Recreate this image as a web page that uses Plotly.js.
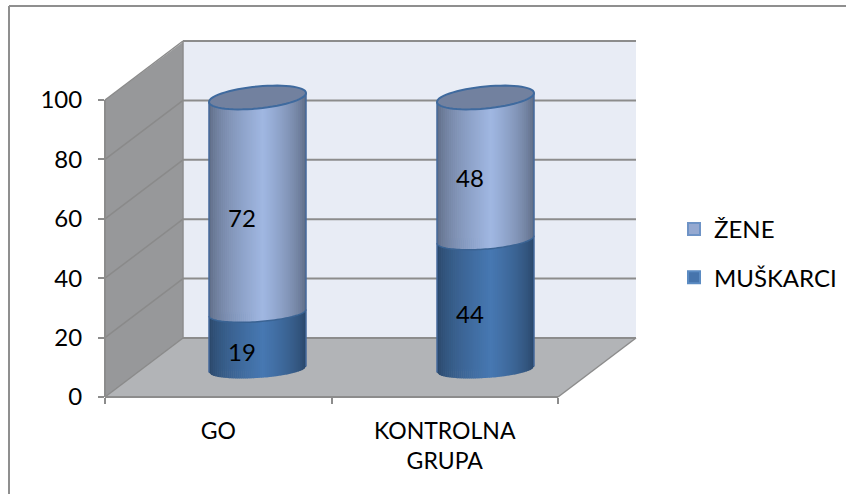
<!DOCTYPE html>
<html><head><meta charset="utf-8">
<script src="https://cdn.plot.ly/plotly-3.0.1.min.js"></script>
<style>html,body{margin:0;padding:0;background:#fff}</style></head>
<body><div id="chart" style="width:846px;height:494px"></div>
<script>
const categories = ["GO", "KONTROLNA<br>GRUPA"];
const muskarci = [19, 44];
const zene = [72, 48];
const yTicks = [0, 20, 40, 60, 80, 100];
const labelNudgePx = [[10, 12], [9, 9]];

const W = 846, H = 494, L = 105, R = 636, T = 42, B = 397;
const FRONT_W = 453, DX = 78, DY = 59, PPU = 2.97;
const CYL_X0 = 257.5, CYL_STEP = 228, CYL_BASE = 369.5, CYL_PPU = 2.72, CYL_HALF = 48.5;
const FONT = 'Lato, "Open Sans", sans-serif';

const px = x => (x - L) / (R - L);
const py = y => (B - y) / (B - T);
const x1Range = [-0.5, -0.5 + (R - L) / (FRONT_W / 2)];
const y1Range = [0, (B - T) / PPU];
const x2Range = [(L - CYL_X0) / CYL_STEP, (R - CYL_X0) / CYL_STEP];
const y2Range = [(CYL_BASE - B) / CYL_PPU, (CYL_BASE - T) / CYL_PPU];

function poly(pts, fill, line, width) {
  return {type: 'path', xref: 'paper', yref: 'paper', layer: 'below',
    path: 'M' + pts.map(p => px(p[0]) + ',' + py(p[1])).join('L') + 'Z',
    fillcolor: fill, line: {color: line || 'rgba(0,0,0,0)', width: width || 0}};
}
function seg(x0, y0, x1, y1, color, width) {
  return {type: 'line', xref: 'paper', yref: 'paper', layer: 'below',
    x0: px(x0), y0: py(y0), x1: px(x1), y1: py(y1), line: {color: color, width: width || 2}};
}
const shapes = [];
shapes.push(seg(9, 6, W, 6, '#8f8f8f', 2));
shapes.push(seg(9, 6, 9, H, '#8f8f8f', 2));
const yFront = v => B - v * PPU;
const fl = L + FRONT_W;
shapes.push(poly([[L + DX, T], [R, T], [R, B - DY], [L + DX, B - DY]], '#e8ecf5'));
shapes.push(poly([[L, yFront(100)], [L + DX, T], [L + DX, B - DY], [L, B]], '#97989a'));
shapes.push(poly([[L, B], [fl, B], [R, B - DY], [L + DX, B - DY]], '#b2b4b7'));
yTicks.forEach(v => {
  const y = yFront(v);
  shapes.push(seg(L, y, L + DX, y - DY, '#8a8a8a', 1.5));
  shapes.push(seg(L + DX, y - DY, R, y - DY, '#8c8c8c', 2));
});
shapes.push(seg(L, yFront(100), L, B, '#8c8c8c', 2));
shapes.push(seg(L + DX, T, L + DX, B - DY, '#8c8c8c', 1.5));
shapes.push(seg(L, B, fl, B, '#8c8c8c', 2));
shapes.push(seg(fl, B, R, B - DY, '#8c8c8c', 1.5));

// cylinder drawn through the x2 / y2 scales
const ellB = v => 8.5 + 2.5 * v / 100;
const tilt = v => 3 + 1.5 * v / 100;
const X2 = (i, dx) => i + dx / CYL_STEP;
const Y2 = (v, dy) => v - dy / CYL_PPU;
const frontDy = (v, u) => -tilt(v) * u + ellB(v) * Math.sqrt(Math.max(0, 1 - u * u));
function shadeCol(rgb, u) {
  const t = (u + 1) / 2;
  const peak = 0.56;
  const d = t < peak ? t / peak : (1 - t) / (1 - peak);
  const s = 0.56 + 0.44 * Math.pow(d, 0.6);
  return 'rgb(' + rgb.map(c => Math.round(c * s)).join(',') + ')';
}
const ZEN_RGB = [160, 183, 226], MUS_RGB = [71, 120, 178];
function cylinder(i, v0, v1, rgb) {
  const N = 48;
  for (let k = 0; k < N; k++) {
    const u0 = -1 + 2 * k / N, u1 = Math.min(1, -1 + 2 * (k + 1.25) / N);
    const x0 = X2(i, u0 * CYL_HALF), x1 = X2(i, u1 * CYL_HALF);
    const p = [[x0, Y2(v0, frontDy(v0, u0))], [x1, Y2(v0, frontDy(v0, u1))],
               [x1, Y2(v1, frontDy(v1, u1))], [x0, Y2(v1, frontDy(v1, u0))]];
    shapes.push({type: 'path', xref: 'x2', yref: 'y2', layer: 'above',
      path: 'M' + p.map(q => q.join(',')).join('L') + 'Z',
      fillcolor: shadeCol(rgb, (u0 + u1) / 2), line: {width: 0}});
  }
}
function arc(i, v, full, color, width, fill) {
  const pts = [];
  const n = 60;
  for (let k = 0; k <= n; k++) {
    const a = (full ? 2 : 1) * Math.PI * k / n;
    const u = -Math.cos(a), s = Math.sin(a);
    pts.push(X2(i, u * CYL_HALF) + ',' + Y2(v, -tilt(v) * u + ellB(v) * s));
  }
  shapes.push({type: 'path', xref: 'x2', yref: 'y2', layer: 'above',
    path: 'M' + pts.join('L') + (full ? 'Z' : ''), fillcolor: fill || 'rgba(0,0,0,0)',
    line: {color: color, width: width}});
}
const annotations = [];
categories.forEach((c, i) => {
  const m = muskarci[i] / (muskarci[i] + zene[i]) * 100;
  cylinder(i, 0, m, MUS_RGB);
  cylinder(i, m, 100, ZEN_RGB);
  arc(i, m, false, '#3a6393', 1.5);
  [-1, 1].forEach(sd => {
    const xx = X2(i, sd * CYL_HALF);
    shapes.push({type: 'line', xref: 'x2', yref: 'y2', layer: 'above',
      x0: xx, x1: xx, y0: Y2(0, frontDy(0, sd)), y1: Y2(100, frontDy(100, sd)),
      line: {color: '#44699b', width: 1.5}});
  });
  arc(i, 100, true, '#3f6a9e', 2, '#72819f');
  const lab = (val, mid, nudge) => annotations.push({xref: 'x2', yref: 'y2', x: X2(i, -16), y: Y2(mid, nudge),
    text: String(val), showarrow: false, font: {family: FONT, size: 24, color: '#000'}});
  lab(muskarci[i], m / 2, labelNudgePx[i][0]);
  lab(zene[i], (m + 100) / 2, labelNudgePx[i][1]);
});

const idx = categories.map((c, i) => i);
const traces = [
  {type: 'scatter', mode: 'markers', x: idx, y: idx.map(() => 0), xaxis: 'x', yaxis: 'y',
   marker: {opacity: 0}, showlegend: false, hoverinfo: 'skip'},
  {type: 'bar', name: 'MUŠKARCI', x: idx, y: muskarci, xaxis: 'x2', yaxis: 'y2', width: 0.36,
   legendgroup: 'm', legendrank: 2, marker: {color: '#4674ac', line: {color: '#5b8bc2', width: 2}}},
  {type: 'bar', name: 'ŽENE', x: idx, y: zene, xaxis: 'x2', yaxis: 'y2', width: 0.36,
   legendgroup: 'z', legendrank: 1, marker: {color: '#95a9d1', line: {color: '#6e93c6', width: 2}}}
];
const layout = {
  width: W, height: H, margin: {l: L, r: W - R, t: T, b: H - B, autoexpand: false},
  paper_bgcolor: '#fff', plot_bgcolor: 'rgba(0,0,0,0)', showlegend: true,
  barmode: 'stack', barnorm: 'percent',
  font: {family: FONT, size: 24, color: '#000'},
  xaxis: {range: x1Range, tickmode: 'array', tickvals: idx, ticktext: categories, ticks: '', showgrid: false,
    zeroline: false, showline: false, fixedrange: true, ticklabelstandoff: 18, tickfont: {family: FONT, size: 23, color: '#000'},
    minor: {tickmode: 'array', tickvals: [-0.5, 0.5, 1.5], ticks: 'outside', ticklen: 6, tickwidth: 2, tickcolor: '#8c8c8c', showgrid: false}},
  yaxis: {range: y1Range, tickmode: 'array', tickvals: yTicks, ticks: 'outside', ticklen: 6, tickwidth: 2, tickcolor: '#8c8c8c',
    showgrid: false, zeroline: false, showline: false, fixedrange: true, ticklabelstandoff: 11},
  xaxis2: {range: x2Range, overlaying: 'x', visible: false, fixedrange: true},
  yaxis2: {range: y2Range, overlaying: 'y', visible: false, fixedrange: true},
  legend: {x: px(674), xref: 'paper', y: py(207), yanchor: 'top', xanchor: 'left', tracegroupgap: 14, traceorder: 'grouped',
    bgcolor: 'rgba(0,0,0,0)', font: {family: FONT, size: 24, color: '#000'}},
  shapes: shapes, annotations: annotations
};
Plotly.newPlot('chart', traces, layout, {displayModeBar: false, staticPlot: true});
</script></body></html>
